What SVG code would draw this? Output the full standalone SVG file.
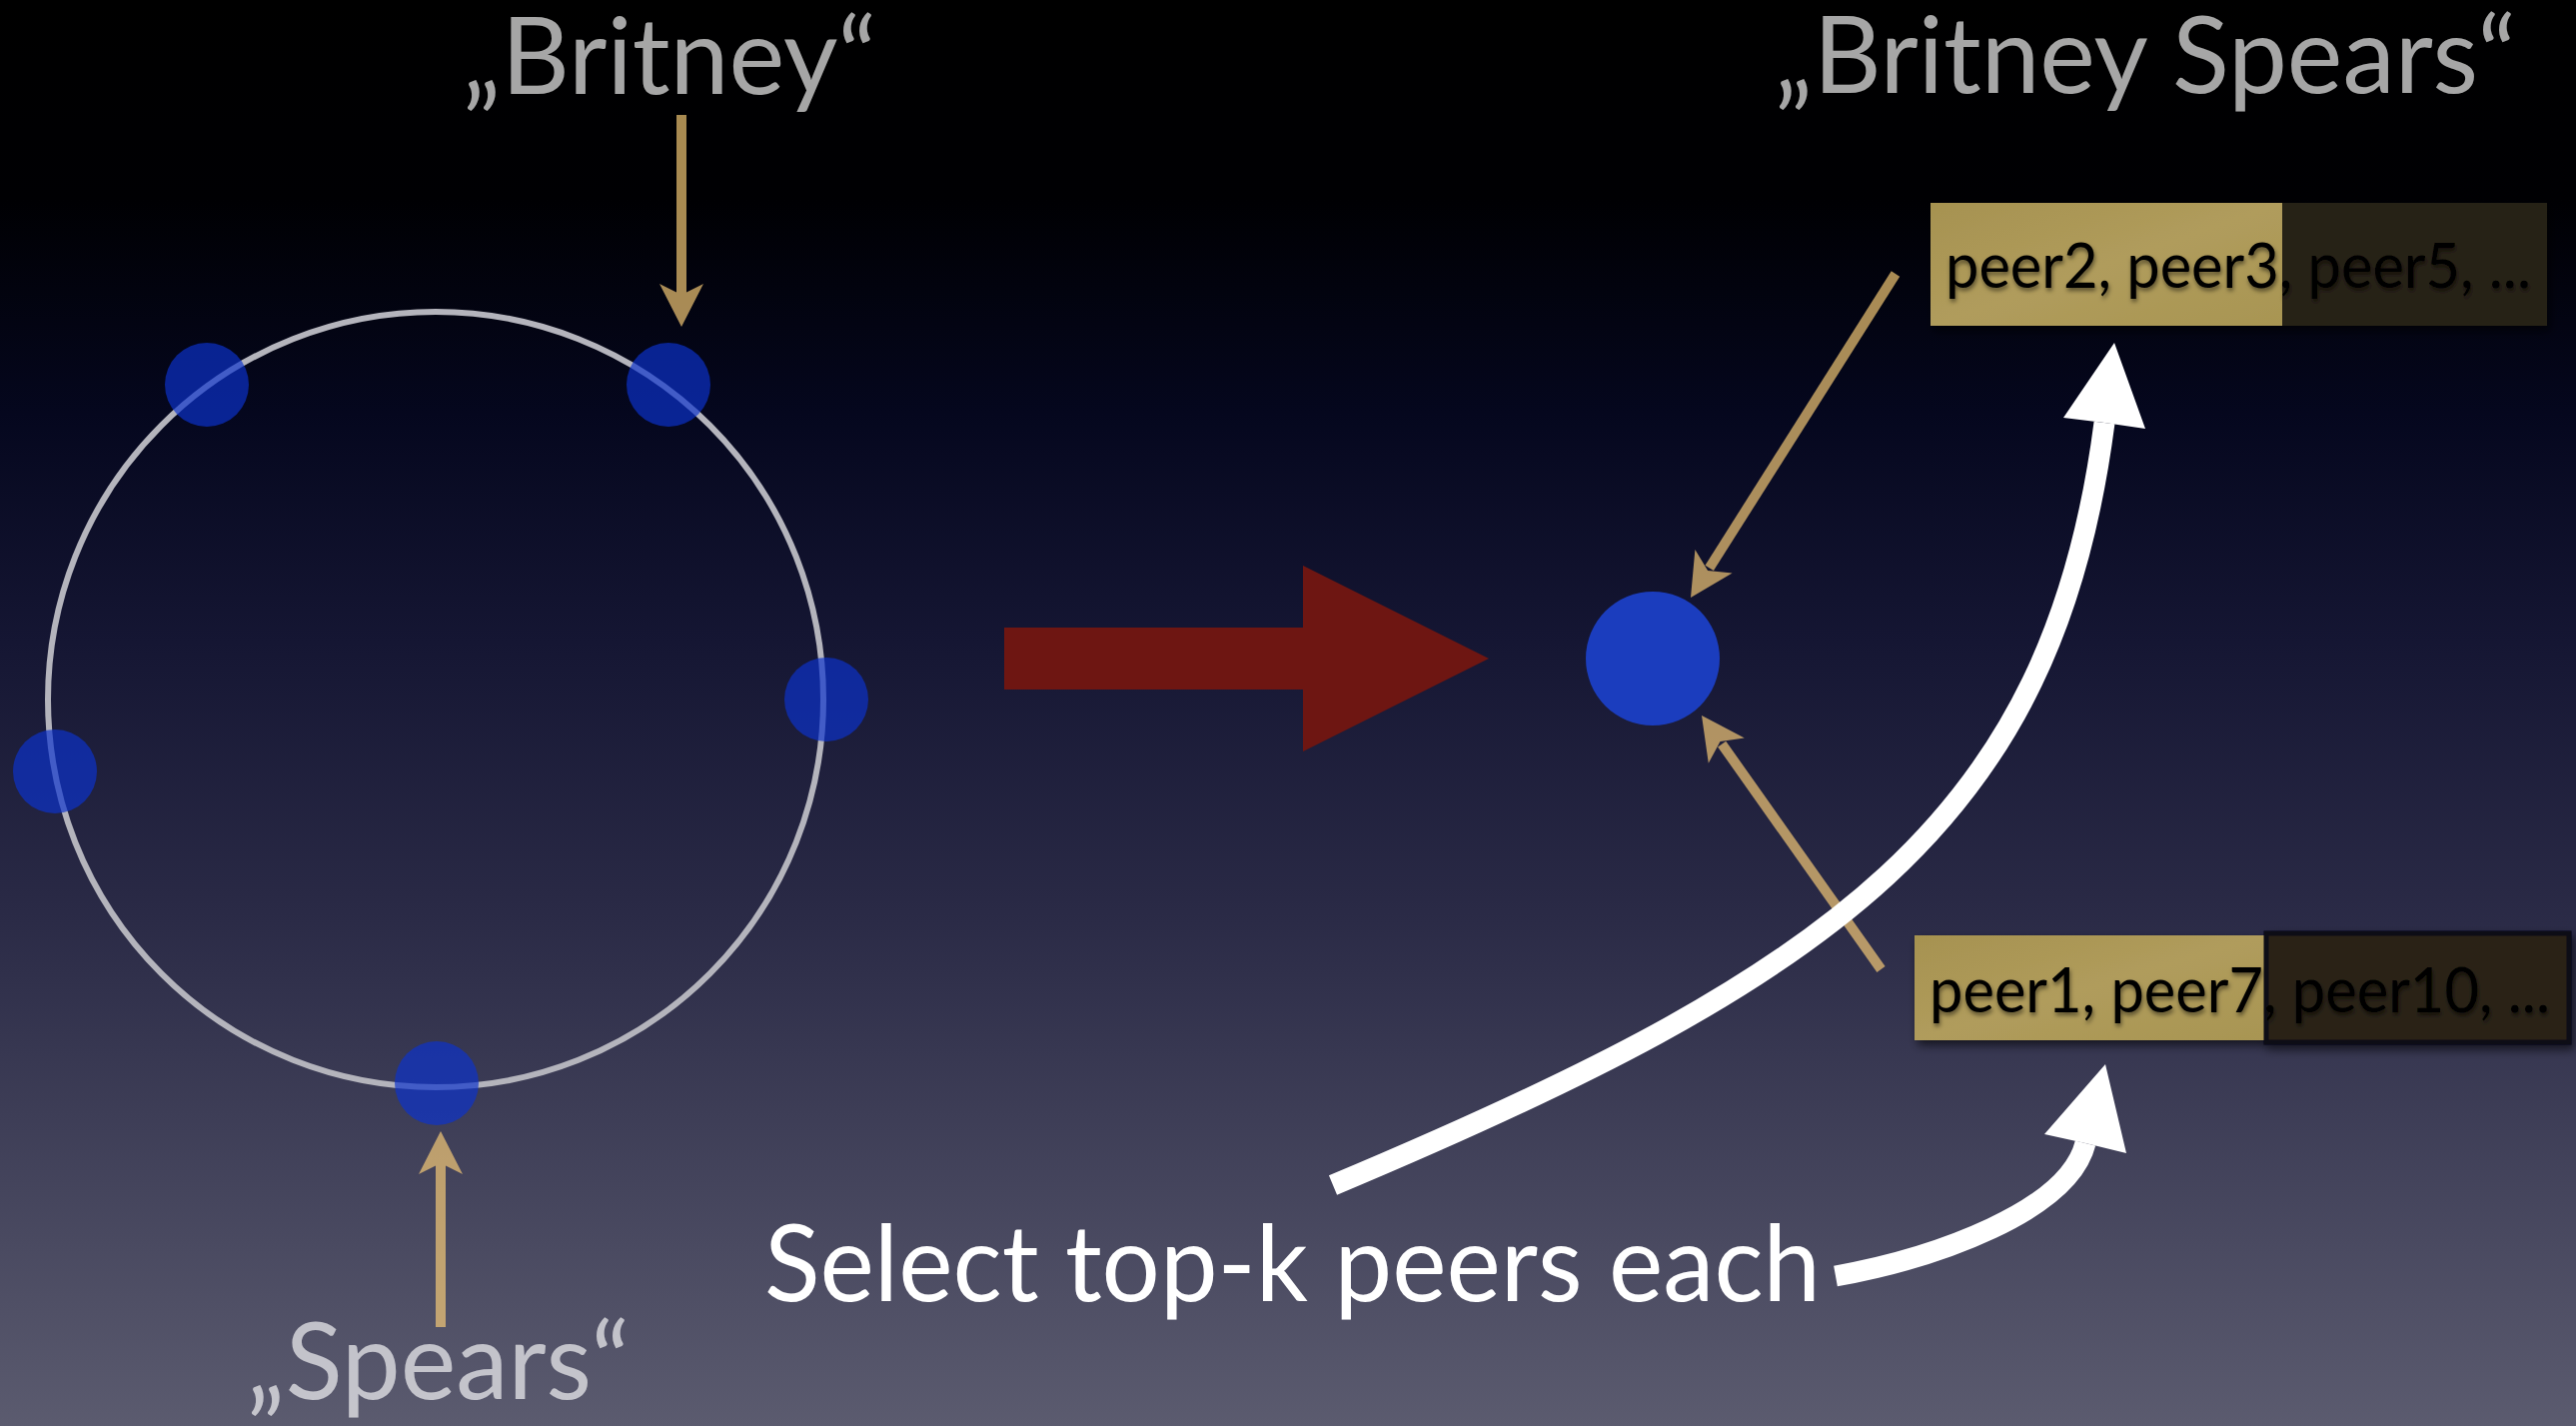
<svg xmlns="http://www.w3.org/2000/svg" width="2578" height="1427" viewBox="0 0 2578 1427">
<defs>
<linearGradient id="bg" x1="0" y1="0" x2="0" y2="1">
<stop offset="0" stop-color="#000000"/>
<stop offset="0.14" stop-color="#000003"/>
<stop offset="0.29" stop-color="#05071e"/>
<stop offset="0.45" stop-color="#151633"/>
<stop offset="0.64" stop-color="#2a2a46"/>
<stop offset="0.83" stop-color="#44445c"/>
<stop offset="1" stop-color="#5b5b6f"/>
</linearGradient>
<linearGradient id="tan" x1="0" y1="0" x2="1" y2="1">
<stop offset="0" stop-color="#a69250"/>
<stop offset="0.5" stop-color="#b09c5c"/>
<stop offset="1" stop-color="#a89552"/>
</linearGradient>
<filter id="shadow" x="-10%" y="-20%" width="130%" height="160%">
<feDropShadow dx="3" dy="5" stdDeviation="5" flood-color="#000" flood-opacity="0.6"/>
</filter>
<filter id="tshadow" x="-5%" y="-20%" width="110%" height="150%">
<feDropShadow dx="1" dy="3" stdDeviation="2" flood-color="#000" flood-opacity="0.5"/>
</filter>
</defs>
<style>
.title{font-family:Lato,"Liberation Sans",sans-serif;font-size:106px;fill:#ffffff;fill-opacity:0.65}
.main{font-family:Lato,"Liberation Sans",sans-serif;font-size:106px;fill:#ffffff}
.peer{font-family:Lato,"Liberation Sans",sans-serif;font-size:62px;fill:#000000}
.ringnode{fill:#0c32cd;fill-opacity:0.68}
.tanarrow{opacity:0.67}
.tanarrow line{stroke:#fbce78;stroke-width:10}
.tanarrow polygon{fill:#fbce78}
.white{fill:none;stroke:#ffffff;stroke-width:21}
</style>
<rect x="0" y="0" width="2578" height="1427" fill="url(#bg)"/>

<g id="ring">
<circle cx="436" cy="700" r="388" fill="none" stroke="#b4b4bc" stroke-width="6"/>
</g>

<g id="ring-nodes">
<circle id="n1" class="ringnode" cx="207" cy="385" r="42"/>
<circle id="n2" class="ringnode" cx="669" cy="385" r="42"/>
<circle id="n3" class="ringnode" cx="827" cy="700" r="42"/>
<circle id="n4" class="ringnode" cx="55" cy="772" r="42"/>
<circle id="n5" class="ringnode" cx="437" cy="1084" r="42"/>
</g>

<g id="merged-node">
<circle cx="1654" cy="659" r="67" fill="#1b3dbe"/>
</g>

<g id="label-britney">
<text class="title" x="463" y="94" textLength="414" lengthAdjust="spacingAndGlyphs">„Britney“</text>
</g>
<g id="label-britney-spears">
<text class="title" x="1776" y="93" textLength="742" lengthAdjust="spacingAndGlyphs">„Britney Spears“</text>
</g>
<g id="label-spears">
<text class="title" x="247" y="1400" textLength="383" lengthAdjust="spacingAndGlyphs">„Spears“</text>
</g>
<g id="label-select">
<text class="main" x="765" y="1302" textLength="1057" lengthAdjust="spacingAndGlyphs">Select top-k peers each</text>
</g>

<g id="list-top" filter="url(#shadow)">
<rect x="1932" y="203" width="352" height="123" fill="url(#tan)"/>
<rect x="2284" y="203" width="265" height="123" fill="#282216"/>
<text class="peer" x="1947" y="288" textLength="586" lengthAdjust="spacingAndGlyphs" filter="url(#tshadow)">peer2, peer3, peer5, ...</text>
</g>

<g id="list-bottom" filter="url(#shadow)">
<rect x="1916" y="936" width="352" height="105" fill="url(#tan)"/>
<rect x="2268" y="934" width="303" height="109" fill="#2a2316" stroke="#0d0d14" stroke-width="5"/>
<text class="peer" x="1931" y="1013" textLength="621" lengthAdjust="spacingAndGlyphs" filter="url(#tshadow)">peer1, peer7, peer10, ...</text>
</g>

<g id="connectors">
<polygon id="red-arrow" points="1005,628 1304,628 1304,566 1490,659 1304,752 1304,690 1005,690" fill="#6e1612"/>

<g class="tanarrow" id="arrow-britney">
<line x1="682" y1="115" x2="682" y2="298"/>
<polygon points="682,327 704,284 682,295 660,284"/>
</g>
<g class="tanarrow" id="arrow-spears">
<line x1="441" y1="1328" x2="441" y2="1162"/>
<polygon points="441,1132 463,1175 441,1164 419,1175"/>
</g>
<g class="tanarrow" id="arrow-list-top">
<line x1="1897" y1="274" x2="1710.7" y2="568.4"/>
<polygon points="1692,598 1733.6,573.5 1709.1,571 1696.4,549.9"/>
</g>
<g class="tanarrow" id="arrow-list-bottom">
<line x1="1882.5" y1="970" x2="1723.2" y2="744.6"/>
<polygon points="1703,716 1745.8,738.4 1721.5,742.1 1709.8,763.8"/>
</g>

<g id="arrow-select-top">
<path class="white" d="M1334,1186 C1834,976 2054,825 2106,423"/>
<polygon points="2116,343 2147,429 2106,423 2065,418" fill="#ffffff"/>
</g>
<g id="arrow-select-bottom">
<path class="white" d="M1837,1277 C1937,1259 2070,1212 2087,1144"/>
<polygon points="2107,1065 2128,1154 2087,1144 2046,1135" fill="#ffffff"/>
</g>
</g>
</svg>
